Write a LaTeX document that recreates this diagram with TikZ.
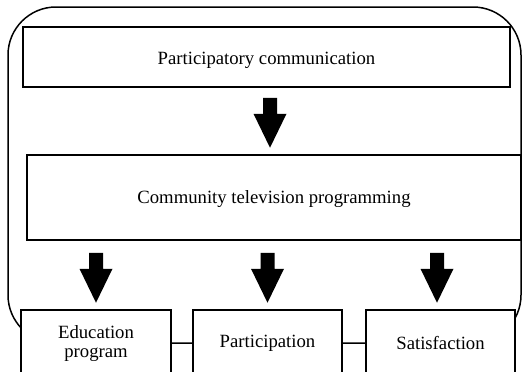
\documentclass[tikz,border=0pt]{standalone}
\usepackage{fontspec}
\setmainfont{Liberation Serif}
\tikzset{
  box/.style={draw, line width=1.5pt, fill=white, inner sep=0pt},
  frame/.style={draw, line width=1.5pt, rounded corners=48pt, inner sep=0pt},
  link/.style={line width=1.5pt},
  pics/blockarrow/.style={code={
    \fill (-7,0) -- (7,0) -- (7,16) -- (16.5,16) -- (0,50) -- (-16.5,16) -- (-7,16) -- cycle;}}
}
\begin{document}
\begin{tikzpicture}[x=1pt,y=-1pt,font=\fontsize{18.7}{19}\selectfont]
\path[use as bounding box, clip] (0,0) rectangle (525,372);
% outer frame
\node[frame, minimum width=513pt, minimum height=336pt] (outer) at (264.5,175) {};
% boxes
\node[box, minimum width=487pt, minimum height=60pt, text height=14pt, text depth=0pt] (pc) at (266.5,57) {Participatory communication};
\node[box, minimum width=494pt, minimum height=85pt, text height=13pt, text depth=2pt] (ctp) at (274,197.5) {Community television programming};
\node[box, minimum width=150pt, minimum height=67pt, align=center] (ed) at (96,343.5) {Education\\program};
\node[box, minimum width=149pt, minimum height=67pt] (pa) at (267.5,343.5) {Participation};
\node[box, minimum width=149pt, minimum height=67pt] (sa) at (440.5,343.5) {Satisfaction};
% links
\draw[link] (ed.east) -- (pa.west);
\draw[link] (pa.west -| pa.east) -- (sa.west);
% block arrows
\pic at ([xshift=3.5pt,yshift=-10pt]pc.south) {blockarrow};
\pic at ([yshift=-12pt]ctp.south -| ed.north) {blockarrow};
\pic at ([yshift=-12pt]ctp.south -| pa.north) {blockarrow};
\pic at ([xshift=-3.5pt,yshift=-12pt]ctp.south -| sa.north) {blockarrow};
\end{tikzpicture}
\end{document}
